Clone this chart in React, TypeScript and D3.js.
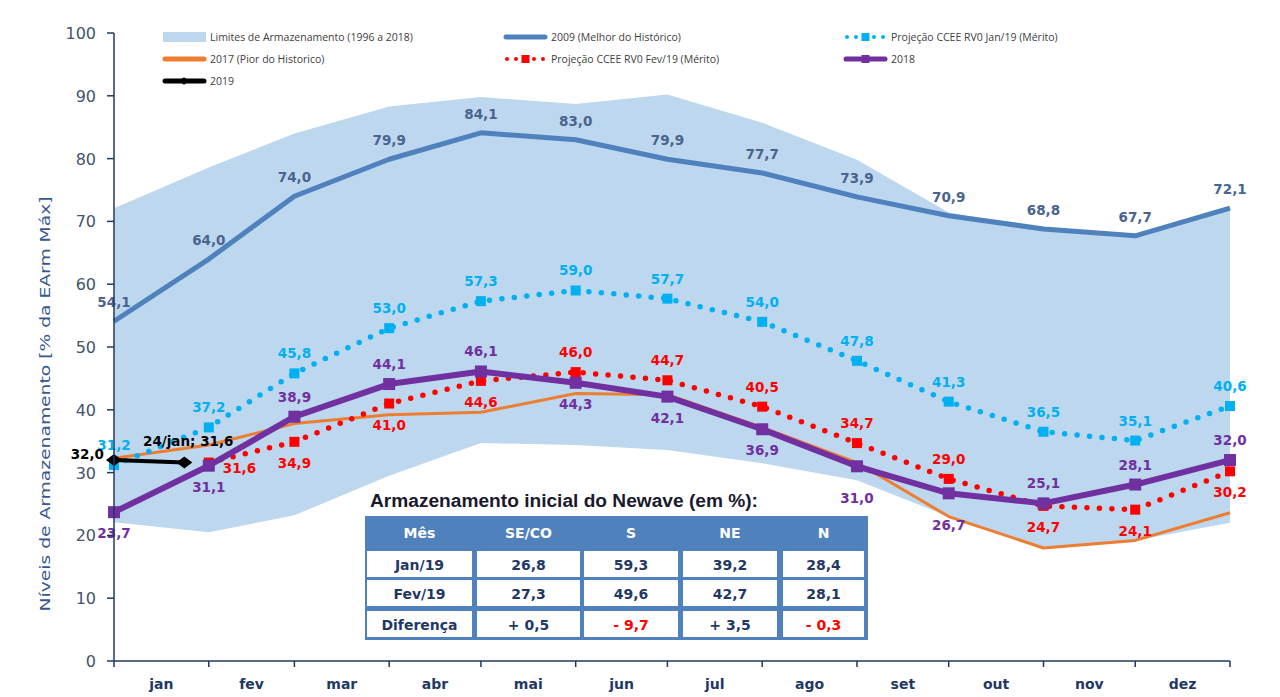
import React from "react";
import * as d3 from "d3";

const months = ["jan", "fev", "mar", "abr", "mai", "jun", "jul", "ago", "set", "out", "nov", "dez"];
const pointDates = [
  "2019-01-01", "2019-02-01", "2019-03-01", "2019-04-01", "2019-05-01", "2019-06-01", "2019-07-01",
  "2019-08-01", "2019-09-01", "2019-10-01", "2019-11-01", "2019-12-01", "2020-01-01",
];
const limitUpper = [72.1, 78.6, 84.0, 88.3, 89.8, 88.7, 90.2, 85.7, 79.8, 71.4, 68.8, 67.7, 72.1];
const limitLower = [22.1, 20.5, 23.2, 29.5, 34.7, 34.4, 33.6, 31.5, 28.8, 23.0, 18.0, 19.2, 22.0];
const best2009 = [54.1, 64.0, 74.0, 79.9, 84.1, 83.0, 79.9, 77.7, 73.9, 70.9, 68.8, 67.7, 72.1];
const worst2017 = [32.3, 34.4, 37.8, 39.2, 39.6, 42.6, 42.4, 37.2, 31.6, 23.0, 18.0, 19.2, 23.6];
const projJan19 = [31.2, 37.2, 45.8, 53.0, 57.3, 59.0, 57.7, 54.0, 47.8, 41.3, 36.5, 35.1, 40.6];
const projFev19Dates = pointDates.slice(1);
const projFev19 = [31.6, 34.9, 41.0, 44.6, 46.0, 44.7, 40.5, 34.7, 29.0, 24.7, 24.1, 30.2];
const year2018 = [23.7, 31.1, 38.9, 44.1, 46.1, 44.3, 42.1, 36.9, 31.0, 26.7, 25.1, 28.1, 32.0];
const year2019Dates = ["2019-01-01", "2019-01-24"];
const year2019 = [32.0, 31.6];

// label placement: a = above, b = below, B = far below, r = right
const posJan19 = ["a", "a", "a", "a", "a", "a", "a", "a", "a", "a", "a", "a", "a"];
const posFev19 = ["r", "b", "b", "b", "a", "a", "a", "a", "a", "b", "b", "b"];
const pos2018 = ["b", "b", "a", "a", "a", "b", "b", "b", "B", "B", "a", "a", "a"];

const yTicks = [0, 10, 20, 30, 40, 50, 60, 70, 80, 90, 100];

const tableTitle = "Armazenamento inicial do Newave (em %):";
const tableHeaders = ["Mês", "SE/CO", "S", "NE", "N"];
const tableRows = [
  ["Jan/19", "26,8", "59,3", "39,2", "28,4"],
  ["Fev/19", "27,3", "49,6", "42,7", "28,1"],
  ["Diferença", "+ 0,5", "- 9,7", "+ 3,5", "- 0,3"],
];

const C = {
  band: "#BDD7EE",
  best: "#4F81BD",
  bestLabel: "#4A6490",
  worst: "#ED7D31",
  cyan: "#00B0F0",
  red: "#FF0000",
  purple: "#7030A0",
  black: "#000000",
  axis: "#1F3864",
  tick: "#44546A",
  tableBlue: "#4F81BD",
  tableText: "#1F3864",
};

const parse = (s: string) => new Date(s + "T00:00:00Z");
const fmt = (v: number) => v.toFixed(1).replace(".", ",");

export default function App() {
  const x = d3.scaleUtc().domain([parse(pointDates[0]), parse(pointDates[12])]).range([114, 1230]);
  const y = d3.scaleLinear().domain([0, 100]).range([661, 33]);

  const dates = pointDates.map(parse);
  const mk = (ds: string[], vs: number[]) => vs.map((v, i) => [parse(ds[i]), v] as [Date, number]);
  const line = d3.line<[Date, number]>().x((d) => x(d[0])).y((d) => y(d[1]));
  const area = d3
    .area<number>()
    .x((_, i) => x(dates[i]))
    .y0((_, i) => y(limitLower[i]))
    .y1((d) => y(d));

  const lblFont = "'DejaVu Sans', Verdana, sans-serif";

  const labels = (ds: string[], vs: number[], pos: string[], color: string, keyp: string) =>
    vs.map((v, i) => {
      const px = x(parse(ds[i]));
      const py = y(v);
      const p = pos[i];
      let tx = px, ty = py - 15, anchor: any = "middle";
      if (p === "b") ty = py + 26;
      if (p === "B") ty = py + 37;
      if (p === "r") { tx = px + 14; ty = py + 10; anchor = "start"; }
      return (
        <text key={keyp + i} x={tx} y={ty} textAnchor={anchor} fill={color} fontSize={13.5}
          fontWeight="bold" fontFamily={lblFont}>{fmt(v)}</text>
      );
    });

  const squares = (ds: string[], vs: number[], color: string, s: number, keyp: string) =>
    vs.map((v, i) => (
      <rect key={keyp + i} x={x(parse(ds[i])) - s / 2} y={y(v) - s / 2} width={s} height={s} fill={color} />
    ));

  const diamond = (cx: number, cy: number, r: number) =>
    `M${cx - r},${cy} L${cx},${cy - r * 0.75} L${cx + r},${cy} L${cx},${cy + r * 0.75} Z`;

  const legFont = "'Open Sans', sans-serif";
  const legend = [
    { col: 163, row: 37, type: "band", text: "Limites de Armazenamento (1996 a 2018)" },
    { col: 504, row: 37, type: "best", text: "2009 (Melhor do Histórico)" },
    { col: 844, row: 37, type: "cyan", text: "Projeção CCEE RV0 Jan/19 (Mérito)" },
    { col: 163, row: 59, type: "worst", text: "2017 (Pior do Historico)" },
    { col: 504, row: 59, type: "red", text: "Projeção CCEE RV0 Fev/19 (Mérito)" },
    { col: 844, row: 59, type: "purple", text: "2018" },
    { col: 163, row: 81, type: "black", text: "2019" },
  ];

  const legendSwatch = (t: string, lx: number, ly: number) => {
    const w = 43;
    if (t === "band") return <rect x={lx} y={ly - 5} width={w} height={10} fill={C.band} />;
    if (t === "best") return <line x1={lx + 2} x2={lx + w - 2} y1={ly} y2={ly} stroke={C.best} strokeWidth={5} strokeLinecap="round" />;
    if (t === "worst") return <line x1={lx + 2} x2={lx + w - 2} y1={ly} y2={ly} stroke={C.worst} strokeWidth={5} strokeLinecap="round" />;
    if (t === "black")
      return (
        <g>
          <line x1={lx + 2} x2={lx + w - 2} y1={ly} y2={ly} stroke={C.black} strokeWidth={5} strokeLinecap="round" />
        </g>
      );
    if (t === "purple")
      return (
        <g>
          <line x1={lx + 2} x2={lx + w - 2} y1={ly} y2={ly} stroke={C.purple} strokeWidth={5} strokeLinecap="round" />
          <rect x={lx + w / 2 - 4} y={ly - 4} width={8} height={8} fill={C.purple} />
        </g>
      );
    const col = t === "cyan" ? C.cyan : C.red;
    return (
      <g>
        <line x1={lx + 3} x2={lx + w - 3} y1={ly} y2={ly} stroke={col} strokeWidth={4} strokeLinecap="round" strokeDasharray="0 9" />
        <rect x={lx + w / 2 - 4} y={ly - 4} width={8} height={8} fill={col} />
      </g>
    );
  };

  // table geometry
  const tX = 365, tY = 516, tW = 503, tH = 124;
  const colX = [367, 477, 584, 683, 783];
  const colW = [105, 103, 94, 94, 81];
  const rowY = [551, 580, 611];
  const rowH = 26;

  return (
    <svg width={1280} height={697} style={{ position: "absolute", left: 0, top: 0, background: "#fff" }}>
      <rect x={0} y={0} width={1280} height={697} fill="#fff" />

      {/* band */}
      <path d={area(limitUpper) || ""} fill={C.band} />

      {/* 2009 */}
      <path d={line(mk(pointDates, best2009)) || ""} fill="none" stroke={C.best} strokeWidth={5} strokeLinejoin="round" />
      {/* 2017 */}
      <path d={line(mk(pointDates, worst2017)) || ""} fill="none" stroke={C.worst} strokeWidth={3} strokeLinejoin="round" />
      {/* Proj Jan/19 */}
      <path d={line(mk(pointDates, projJan19)) || ""} fill="none" stroke={C.cyan} strokeWidth={5.5}
        strokeLinecap="round" strokeDasharray="0 12.5" />
      {squares(pointDates, projJan19, C.cyan, 10, "cs")}
      {/* Proj Fev/19 */}
      <path d={line(mk(projFev19Dates, projFev19)) || ""} fill="none" stroke={C.red} strokeWidth={5.5}
        strokeLinecap="round" strokeDasharray="0 12.5" />
      {squares(projFev19Dates, projFev19, C.red, 10, "rs")}
      {/* 2018 */}
      <path d={line(mk(pointDates, year2018)) || ""} fill="none" stroke={C.purple} strokeWidth={6} strokeLinejoin="round" />
      {squares(pointDates, year2018, C.purple, 12, "ps")}
      {/* 2019 */}
      <path d={line(mk(year2019Dates, year2019)) || ""} fill="none" stroke={C.black} strokeWidth={4} />
      {year2019.map((v, i) => (
        <path key={"bd" + i} d={diamond(x(parse(year2019Dates[i])), y(v), 8)} fill={C.black} />
      ))}

      {/* labels */}
      {best2009.map((v, i) => (
        <text key={"bl" + i} x={x(dates[i])} y={y(v) - 14} textAnchor="middle" fill={C.bestLabel}
          fontSize={13.5} fontWeight="bold" fontFamily={lblFont}>{fmt(v)}</text>
      ))}
      {labels(pointDates, projJan19, posJan19, C.cyan, "cl")}
      {labels(projFev19Dates, projFev19, posFev19, C.red, "rl")}
      {labels(pointDates, year2018, pos2018, C.purple, "pl")}
      <text x={104} y={y(year2019[0]) - 1} textAnchor="end" fill={C.black} fontSize={13.5} fontWeight="bold"
        fontFamily={lblFont}>{fmt(year2019[0])}</text>
      <text x={143} y={y(year2019[1]) - 17} textAnchor="start" fill={C.black} fontSize={13.5} fontWeight="bold"
        fontFamily={lblFont}>{"24/jan; " + fmt(year2019[1])}</text>

      {/* axes */}
      <line x1={114} x2={114} y1={y(100)} y2={y(0)} stroke={C.axis} strokeWidth={1.5} />
      {yTicks.map((t) => (
        <g key={"yt" + t}>
          <line x1={107} x2={114} y1={y(t)} y2={y(t)} stroke={C.axis} strokeWidth={1.5} />
          <text x={96} y={y(t) + 6} textAnchor="end" fill={C.tick} fontSize={16} fontFamily={lblFont}>{t}</text>
        </g>
      ))}
      <line x1={114} x2={1230} y1={y(0)} y2={y(0)} stroke={C.axis} strokeWidth={1.5} />
      {dates.map((d, i) => (
        <line key={"xt" + i} x1={x(d)} x2={x(d)} y1={y(0)} y2={y(0) + 6} stroke={C.axis} strokeWidth={1.5} />
      ))}
      {months.map((m, i) => (
        <text key={"mo" + i} x={(x(dates[i]) + x(dates[i + 1])) / 2} y={689} textAnchor="middle" fill={C.axis}
          fontSize={14} fontWeight="bold" fontFamily={lblFont}>{m}</text>
      ))}
      <text transform="translate(50,404) rotate(-90)" textAnchor="middle" fill="#35598F" fontSize={14}
        fontFamily={lblFont} textLength={415} lengthAdjust="spacingAndGlyphs">
        Níveis de Armazenamento [% da EArm Máx]
      </text>

      {/* legend */}
      {legend.map((l, i) => (
        <g key={"lg" + i}>
          {legendSwatch(l.type, l.col, l.row)}
          {l.type === "black" && <path d={diamond(l.col + 21, l.row, 5)} fill={C.black} />}
          <text x={l.col + 47} y={l.row + 4} fill="#404040" fontSize={10.5} fontFamily={legFont}>{l.text}</text>
        </g>
      ))}

      {/* table */}
      <text x={370} y={507} fill="#1a1a2e" fontSize={18} fontWeight="bold" fontFamily="'Liberation Sans', Arial, sans-serif"
        textLength={388} lengthAdjust="spacingAndGlyphs">{tableTitle}</text>
      <rect x={tX} y={tY} width={tW} height={tH} fill={C.tableBlue} />
      {tableHeaders.map((h, j) => (
        <text key={"th" + j} x={colX[j] + colW[j] / 2} y={538} textAnchor="middle" fill="#fff" fontSize={14}
          fontWeight="bold" fontFamily={lblFont}>{h}</text>
      ))}
      {tableRows.map((r, i) =>
        r.map((c, j) => (
          <g key={"tc" + i + "-" + j}>
            <rect x={colX[j]} y={rowY[i]} width={colW[j]} height={rowH} fill="#fff" />
            <text x={colX[j] + colW[j] / 2} y={rowY[i] + 19} textAnchor="middle"
              fill={c.trim().startsWith("-") ? C.red : C.tableText} fontSize={14} fontWeight="bold"
              fontFamily={lblFont}>{c}</text>
          </g>
        ))
      )}
    </svg>
  );
}
